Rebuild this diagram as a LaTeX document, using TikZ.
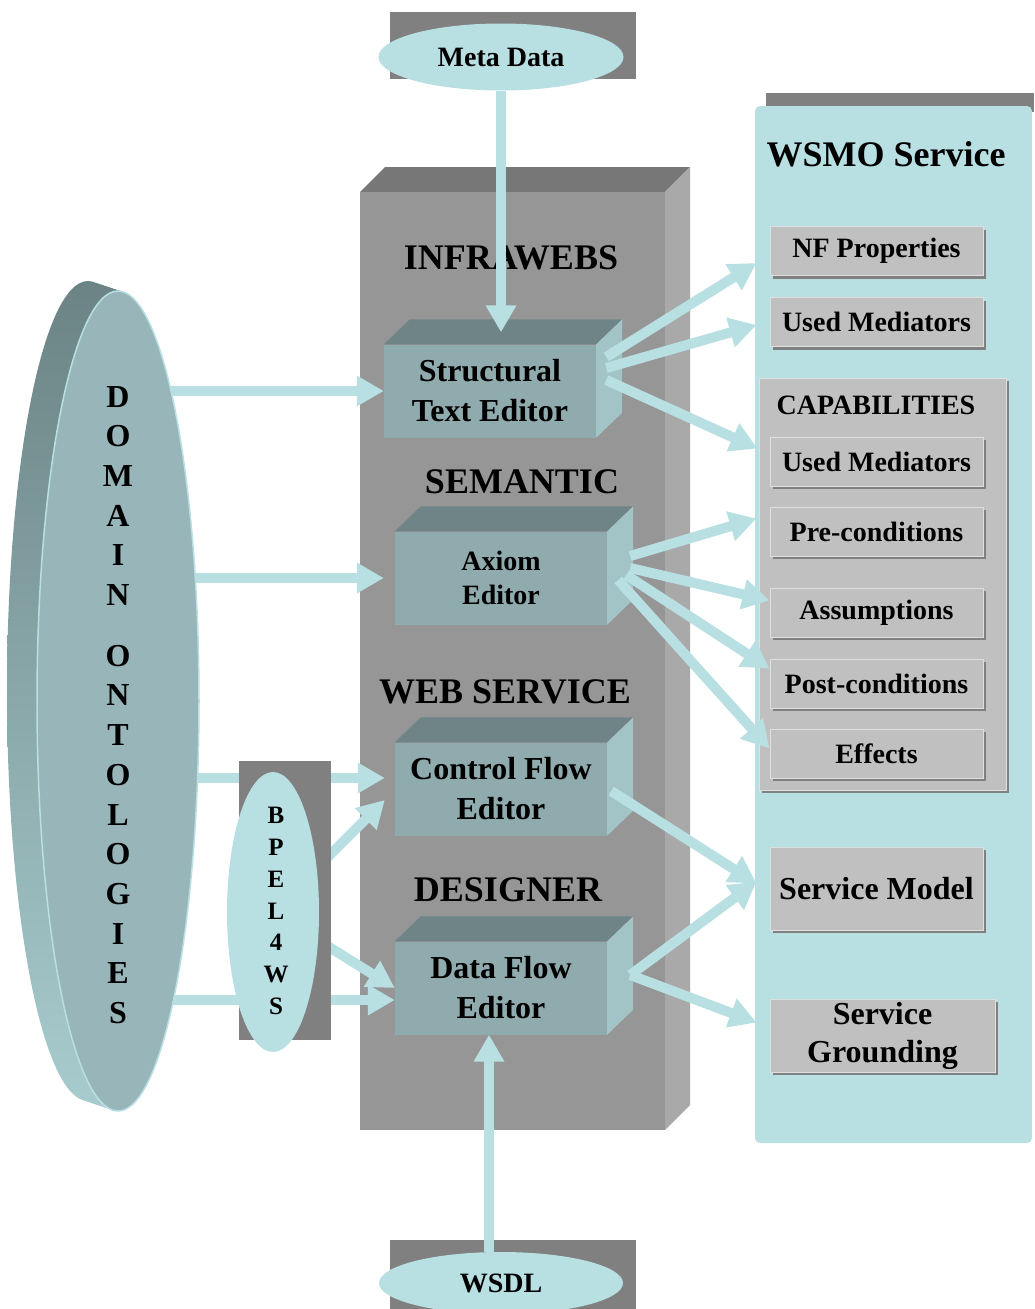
\documentclass[tikz,border=0pt]{standalone}
\usepackage{fontspec}
\setmainfont{Liberation Serif}
\usetikzlibrary{shapes.geometric,arrows.meta,calc,shadows}

\definecolor{paleblue}{HTML}{B8DFE2}
\definecolor{darkback}{HTML}{808080}
\definecolor{slabfront}{HTML}{969696}
\definecolor{slabtop}{HTML}{777777}
\definecolor{slabside}{HTML}{A9A9A9}
\definecolor{edfront}{HTML}{90ABAE}
\definecolor{edtop}{HTML}{6E8486}
\definecolor{edside}{HTML}{A3C4C6}
\definecolor{ontofront}{HTML}{98B6BA}
\definecolor{ontotop}{HTML}{6B8385}
\definecolor{ontomid}{HTML}{8EAAAD}
\definecolor{ontobottom}{HTML}{A8CCCE}
\definecolor{itemgray}{HTML}{C0C0C0}

\pgfdeclarelayer{front}
\pgfsetlayers{main,front}

\tikzset{
    flow/.style={draw=paleblue, line width=10pt, -{Triangle[width=29pt,length=27pt]}},
    editor/.style={fill=edfront, minimum width=212pt, minimum height=93pt, inner sep=0pt, align=center},
    heading/.style={font=\fontsize{36}{40}\selectfont\bfseries},
    tag/.style={ellipse, fill=paleblue, inner sep=0pt, font=\fontsize{28}{32}\selectfont\bfseries},
    item/.style={fill=itemgray, draw=itemgray!50!white, line width=1pt, minimum width=213pt, minimum height=49pt,
        inner sep=0pt, align=center, font=\fontsize{28}{32}\selectfont\bfseries,
        drop shadow={shadow xshift=3pt, shadow yshift=-3pt, fill=darkback, opacity=1}}
}

\begin{document}
\begin{tikzpicture}[x=1pt, y=-1pt]
            \useasboundingbox (0,0) rectangle (1034,1309);

            \fill[darkback] (390,12) rectangle (636,79);
            \node[tag, minimum width=245pt, minimum height=67pt] (meta) at (501,57) {Meta Data};
            \fill[darkback] (390,1240) rectangle (636,1309);
            \node[tag, minimum width=244pt, minimum height=62pt] (wsdl) at (501,1283) {WSDL};

            \fill[slabtop] (360,192) -- (385,167) -- (690,167) -- (665,192) -- cycle;
            \fill[slabside] (665,192) -- (690,167) -- (690,1105) -- (665,1130) -- cycle;
            \fill[slabfront] (360,192) rectangle (665,1130);

            \node[heading] (infra) at (511,258) {INFRAWEBS};
            \node[heading] (sem) at (522,482) {SEMANTIC};
            \node[heading] (websrv) at (505,692) {WEB SERVICE};
            \node[heading] (designer) at (508,890) {DESIGNER};

            \node[editor, font=\fontsize{32}{40}\selectfont\bfseries] (ste) at (490,391) {Structural\\Text Editor};
            \node[editor, font=\fontsize{28}{34}\selectfont\bfseries] (axe) at (501,578) {Axiom\\Editor};
            \node[editor, font=\fontsize{32}{40}\selectfont\bfseries] (cfe) at (501,789) {Control Flow\\Editor};
            \node[editor, font=\fontsize{32}{40}\selectfont\bfseries] (dfe) at (501,988) {Data Flow\\Editor};
            \foreach \ed in {ste,axe,cfe,dfe} {
                \fill[edtop] (\ed.north west) -- ++(26,-25) -- ($(\ed.north east)+(26,-25)$) -- (\ed.north east) -- cycle;
                \fill[edside] (\ed.north east) -- ++(26,-25) -- ($(\ed.south east)+(26,-25)$) -- (\ed.south east) -- cycle;
            }

            \fill[darkback] (766,93) rectangle (1034,112);
            \fill[paleblue, rounded corners=5pt] (755,106) rectangle (1032,1143);
            \node[heading] (wsmo) at (886,154) {WSMO Service};
            \node[item] (nf) at (876.5,251) {NF Properties};
            \node[item] (usedmed) at (876.5,322) {Used Mediators};
            \node[item, minimum width=247pt, minimum height=412pt] (cap) at (882.5,584) {};
            \node[font=\fontsize{28}{32}\selectfont\bfseries] (captitle) at (876,405) {CAPABILITIES};
            \node[item] (capmed) at (876.5,461.5) {Used Mediators};
            \node[item] (pre) at (876.5,531.5) {Pre-conditions};
            \node[item] (assu) at (876.5,612.5) {Assumptions};
            \node[item] (post) at (876.5,683.5) {Post-conditions};
            \node[item] (eff) at (876.5,753.5) {Effects};
            \node[item, minimum height=83pt, font=\fontsize{32}{38}\selectfont\bfseries] (model) at (876.5,888.5) {Service Model};
            \node[item, minimum width=225pt, minimum height=73pt, font=\fontsize{32}{38}\selectfont\bfseries] (ground) at (882.5,1035.5) {Service\\Grounding};

            \begin{pgfonlayer}{front}
                \shade[top color=ontotop, middle color=ontomid, bottom color=ontobottom]
                    \foreach \i in {0,...,30} { ({88+\i},{691+\i*10/30}) ellipse (81pt and 410pt) };
                \node[ellipse, fill=ontofront, draw=paleblue, line width=1.5pt, minimum width=162pt, minimum height=820pt] (onto) at (118,701) {};
                \node[align=center, font=\fontsize{32}{39.7}\selectfont\bfseries] (ontotext) at (118,705)
                    {D\\O\\M\\A\\I\\N\\[21pt]O\\N\\T\\O\\L\\O\\G\\I\\E\\S};
                \fill[darkback] (239,761) rectangle (331,1040);
                \node[ellipse, fill=paleblue, minimum width=92pt, minimum height=280pt] (bpel) at (273,912) {};
                \node[align=center, font=\fontsize{25}{31.8}\selectfont\bfseries] (bpeltext) at (276,911) {B\\P\\E\\L\\4\\W\\S};
            \end{pgfonlayer}

            \coordinate (ste-top) at ($(ste.north)+(11,-12)$);
            \coordinate (axe-in) at ($(axe.west)+(-11,0)$);
            \coordinate (cfe-in1) at ($(cfe.west)+(-10,-11)$);
            \coordinate (cfe-in2) at ($(cfe.west)+(-10,11)$);
            \coordinate (dfe-in) at ($(dfe.west)+(0,12)$);
            \coordinate (dfe-bot) at ($(dfe.south)+(-12,0)$);

            \draw[flow] (meta.south -| ste-top) -- (ste-top);
            \draw[flow] (wsdl.north -| dfe-bot) -- (dfe-bot);
            \draw[flow] (ste.west -| onto.center) -- (ste.west);
            \draw[flow] (axe-in -| onto.center) -- (axe-in);
            \draw[flow] (cfe-in1 -| onto.center) -- (cfe-in1);
            \draw[flow] (dfe-in -| onto.center) -- (dfe-in);
            \draw[flow] (bpel) -- (cfe-in2);
            \draw[flow] (bpel) -- (dfe.west);

            \draw[flow] ($(ste.east)+(10,-34)$) -- ($(nf.west)+(-13,12)$);
            \draw[flow] ($(ste.east)+(10,-23)$) -- ($(usedmed.west)+(-13,3)$);
            \draw[flow] ($(ste.east)+(10,-11)$) -- ($(capmed.west)+(-12,-13)$);
            \draw[flow] ($(axe.east)+(23,-22)$) -- ($(pre.west)+(-13,-13)$);
            \draw[flow] ($(axe.east)+(23,-10)$) -- ($(assu.west)+(0,-12)$);
            \draw[flow] ($(axe.east)+(19,-3)$) -- ($(post.west)+(0,-15)$);
            \draw[flow] ($(axe.east)+(11,2)$) -- ($(eff.west)+(0,-5)$);
            \draw[flow] ($(cfe.east)+(4,2)$) -- ($(model.west)+(-13,-5)$);
            \draw[flow] ($(dfe.east)+(23,-13)$) -- ($(model.west)+(-13,-7)$);
            \draw[flow] ($(dfe.east)+(23,-13)$) -- ($(ground.west)+(-13,-13)$);
        \end{tikzpicture}
\end{document}
